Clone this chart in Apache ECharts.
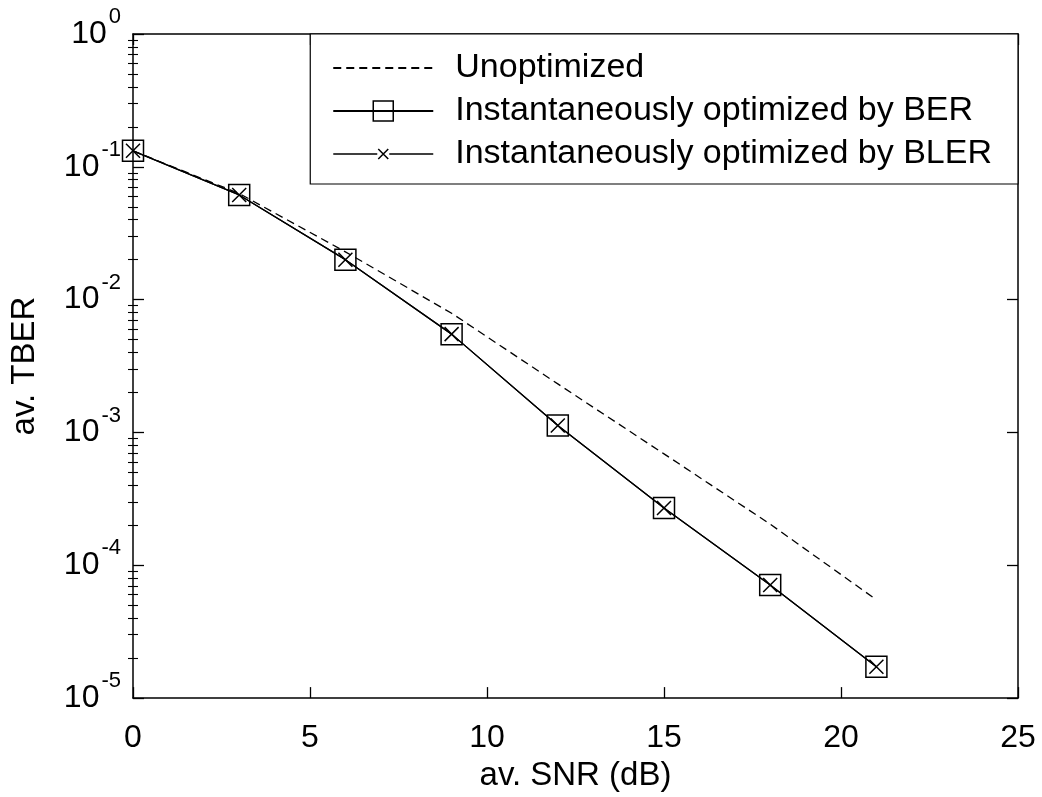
<!DOCTYPE html>
<html>
<head>
<meta charset="utf-8">
<script src="https://cdn.jsdelivr.net/npm/echarts@6/dist/echarts.min.js"></script>
<style>
  html, body { margin: 0; padding: 0; background: #fff; }
  #chart { width: 1042px; height: 797px; }
</style>
</head>
<body>
<div id="chart"></div>
<script>
// Average SNR (dB) at which each curve was evaluated
const snr = [0, 3, 6, 9, 12, 15, 18, 21];

// Average TBER per scheme
const unoptimized = [0.132, 0.063, 0.0229, 0.0079, 0.00232, 0.00069, 0.000204, 0.000055];
const optimizedByBER = [0.132, 0.0614, 0.0200, 0.0055, 0.00113, 0.000270, 0.000071, 0.0000172];
const optimizedByBLER = [0.132, 0.0614, 0.0200, 0.0055, 0.00113, 0.000270, 0.000071, 0.0000172];

// Axis tick values
const xTicks = [0, 5, 10, 15, 20, 25];
const yDecades = [1e-5, 1e-4, 1e-3, 1e-2, 1e-1, 1];
const yMantissas = [2, 3, 4, 5, 6, 7, 8, 9];

const seriesNames = [
  'Unoptimized',
  'Instantaneously optimized by BER',
  'Instantaneously optimized by BLER'
];

const FONT = '"Liberation Sans", Arial, Helvetica, sans-serif';
const BLACK = '#000';

// minor ticks of the log axis: 2..9 times every decade
const yMinor = [];
yDecades.slice(0, -1).forEach(d => yMantissas.forEach(m => yMinor.push(+(m * d).toPrecision(3))));

const pairs = ys => snr.map((x, i) => [x, ys[i]]);

const chart = echarts.init(document.getElementById('chart'), null, { renderer: 'canvas' });

const axisLine = { show: true, onZero: false, lineStyle: { color: BLACK, width: 1.5 } };
const majorTick = { show: true, inside: true, length: 11, lineStyle: { color: BLACK, width: 1.3 } };

function minorY(position) {
  return {
    type: 'log', logBase: 10, min: 1e-5, max: 1, position,
    axisLine: { show: false },
    axisTick: { show: true, inside: true, length: 5, customValues: yMinor, lineStyle: { color: BLACK, width: 1.1 } },
    axisLabel: { show: false },
    splitLine: { show: false }
  };
}

const option = {
  animation: false,
  backgroundColor: '#fff',
  textStyle: { fontFamily: FONT, color: BLACK },
  grid: { left: 132, right: 24, top: 34, bottom: 92, containLabel: false },
  legend: {
    right: 24,
    top: 34,
    orient: 'vertical',
    align: 'left',
    backgroundColor: '#fff',
    borderColor: BLACK,
    borderWidth: 1.2,
    borderRadius: 0,
    padding: [17, 26, 13, 22],
    itemWidth: 100,
    itemHeight: 25,
    itemGap: 9,
    itemStyle: { borderWidth: 1.5, borderColor: BLACK },
    textStyle: { fontFamily: FONT, fontSize: 34, color: BLACK, padding: [0, 0, 0, 17] },
    selectedMode: false,
    z: 10,
    data: [
      { name: seriesNames[0], itemStyle: { borderWidth: 0, color: 'transparent' } },
      { name: seriesNames[1] },
      { name: seriesNames[2], icon: 'path://M0,10L44,10M45,5L55,15M55,5L45,15M56,10L100,10' }
    ]
  },
  xAxis: [
    {
      type: 'value', min: 0, max: 25, interval: 5, position: 'bottom',
      axisLine, axisTick: majorTick,
      axisLabel: { margin: 24, color: BLACK, fontSize: 32, fontFamily: FONT },
      splitLine: { show: false },
      name: 'av. SNR (dB)', nameLocation: 'middle', nameGap: 40,
      nameTextStyle: { fontSize: 33, color: BLACK, fontFamily: FONT }
    },
    {
      type: 'value', min: 0, max: 25, interval: 5, position: 'top',
      axisLine, axisTick: majorTick,
      axisLabel: { show: false }, splitLine: { show: false }
    }
  ],
  yAxis: [
    {
      type: 'log', logBase: 10, min: 1e-5, max: 1, position: 'left',
      axisLine,
      axisTick: Object.assign({}, majorTick, { customValues: yDecades }),
      axisLabel: {
        customValues: yDecades,
        margin: 12,
        padding: [0, 0, 12, 0],
        color: BLACK,
        fontFamily: FONT,
        formatter: v => '{b|10}{s|' + Math.round(Math.log10(v)) + '}',
        rich: {
          b: { fontSize: 32, lineHeight: 32, verticalAlign: 'bottom', fontFamily: FONT, color: BLACK },
          s: { fontSize: 22, lineHeight: 44, verticalAlign: 'top', padding: [0, 0, 0, 2], fontFamily: FONT, color: BLACK }
        }
      },
      splitLine: { show: false },
      name: 'av. TBER', nameLocation: 'middle', nameGap: 92, nameRotate: 90,
      nameTextStyle: { fontSize: 33, color: BLACK, fontFamily: FONT }
    },
    {
      type: 'log', logBase: 10, min: 1e-5, max: 1, position: 'right',
      axisLine,
      axisTick: Object.assign({}, majorTick, { customValues: yDecades }),
      axisLabel: { show: false }, splitLine: { show: false }
    },
    minorY('left'),
    minorY('right')
  ],
  series: [
    {
      name: seriesNames[0], type: 'line', data: pairs(unoptimized),
      symbol: 'none', silent: true, z: 2,
      lineStyle: { color: BLACK, width: 1.3, type: [8, 5] },
      itemStyle: { color: 'transparent', borderWidth: 0 },
      emphasis: { disabled: true }
    },
    {
      name: seriesNames[1], type: 'line', data: pairs(optimizedByBER),
      symbol: 'rect', symbolSize: 21, silent: true, z: 3,
      lineStyle: { color: BLACK, width: 1.3 },
      itemStyle: { color: 'transparent', borderColor: BLACK, borderWidth: 1.5 },
      emphasis: { disabled: true }
    },
    {
      name: seriesNames[2], type: 'line', data: pairs(optimizedByBLER),
      symbol: 'path://M0,0L10,10M10,0L0,10', symbolSize: 14, silent: true, z: 4,
      lineStyle: { color: BLACK, width: 1.3 },
      itemStyle: { color: 'transparent', borderColor: BLACK, borderWidth: 1.5 },
      emphasis: { disabled: true }
    }
  ]
};

chart.setOption(option);
</script>
</body>
</html>
